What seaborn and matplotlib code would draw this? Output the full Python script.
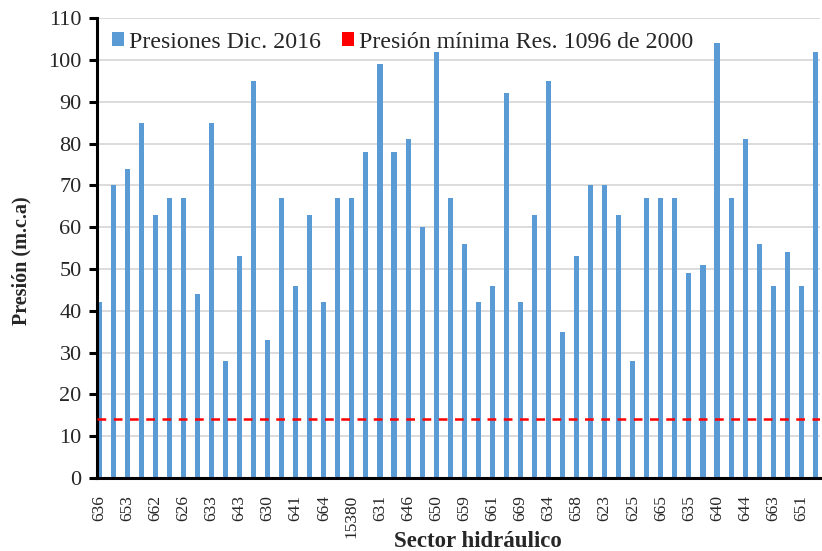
import numpy as np
import pandas as pd
import matplotlib
matplotlib.use("Agg")
import matplotlib.pyplot as plt
from matplotlib.patches import Patch
import seaborn as sns

# Data (52 bars, every other one labelled)
presiones = [42, 70, 74, 85, 63, 67, 67, 44, 85, 28,
             53, 95, 33, 67, 46, 63, 42, 67, 67, 78,
             99, 78, 81, 60, 102, 67, 56, 42, 46, 92,
             42, 63, 95, 35, 53, 70, 70, 63, 28, 67,
             67, 67, 49, 51, 104, 67, 81, 56, 46, 54,
             46, 102]
etiquetas = ["636", "653", "662", "626", "633", "643", "630", "641", "664",
             "15380", "631", "646", "650", "659", "661", "669", "634", "658",
             "623", "625", "665", "635", "640", "644", "663", "651"]
presion_minima = 14
yticks = list(range(0, 111, 10))

sns.set_theme(style="white")
plt.rcParams['font.family'] = ['Liberation Serif', 'DejaVu Serif']

df = pd.DataFrame({"pos": np.arange(len(presiones)), "presion": presiones})

fig = plt.figure(figsize=(8.22, 5.51), dpi=100)
ax = fig.add_axes([0.118, 0.1325, 0.879, 0.8345])

ax.set_axisbelow(True)
ax.yaxis.grid(True, color="#d9d9d9", linewidth=1.3)
ax.xaxis.grid(False)

sns.barplot(data=df, x="pos", y="presion", native_scale=True, color="#5B9BD5",
            saturation=1, width=0.36, ax=ax, errorbar=None, linewidth=0)

ax.axhline(presion_minima, color="#FF0000", linestyle=(0, (3.5, 3)), linewidth=1.8,
           zorder=3)

ax.set_ylim(0, 110)
ax.set_yticks(yticks)
ax.set_yticklabels([str(v) for v in yticks], fontsize=16)
ax.set_xlim(-0.15, 51.3)
ax.set_xticks(np.arange(0, len(presiones), 2))
ax.set_xticklabels(etiquetas, rotation=90, fontsize=12.5)

for s in ["top", "right"]:
    ax.spines[s].set_visible(False)
for s in ["left", "bottom"]:
    ax.spines[s].set_color("black")
    ax.spines[s].set_linewidth(2.2)

ax.tick_params(axis="y", which="major", left=True, length=6, width=2.2,
               color="black", pad=5)
ax.tick_params(axis="x", bottom=False, pad=6)

ax.set_ylabel("Presión (m.c.a)", fontsize=14.5, fontweight="bold")
ax.yaxis.set_label_coords(-0.091, 0.472)
ax.set_xlabel("Sector hidráulico", fontsize=16.5, fontweight="bold")
ax.xaxis.set_label_coords(0.527, -0.115)

handles = [Patch(facecolor="#5B9BD5", edgecolor="none", label="Presiones Dic. 2016"),
           Patch(facecolor="#FF0000", edgecolor="none", label="Presión mínima Res. 1096 de 2000")]
ax.legend(handles=handles, loc="center left", ncol=2, frameon=False, fontsize=17.2,
          bbox_to_anchor=(0.0207, 0.948), handlelength=0.5, handleheight=0.5,
          handletextpad=0.2, columnspacing=0.9, borderaxespad=0, borderpad=0)

fig.savefig("out.png", dpi=100)
